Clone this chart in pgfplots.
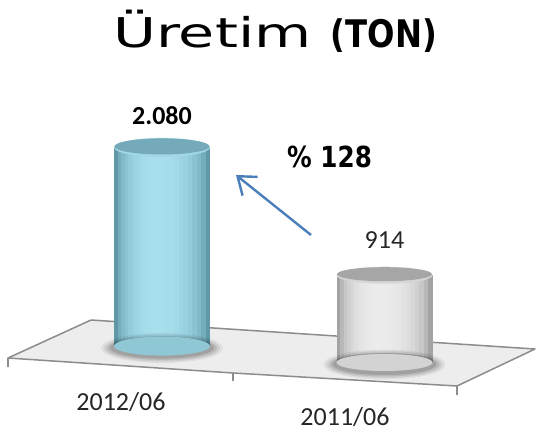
\documentclass[border=0pt]{standalone}
\usepackage{fontspec}
\setmainfont{Carlito}
\newfontfamily\titlefont[FakeStretch=1.43]{DejaVu Sans}
\newfontfamily\heavyfont[FakeStretch=0.85]{DejaVu Sans}
\usepackage{pgfplots}
\usepackage{pgfplotstable}
\pgfplotsset{compat=1.18}
\usetikzlibrary{arrows.meta,shapes.geometric}
\definecolor{floorc}{HTML}{EDEDED}
\definecolor{edgec}{HTML}{8C8C8C}
\definecolor{arrowc}{HTML}{4A7EBB}
\definecolor{labc}{HTML}{262626}
\definecolor{bla}{HTML}{4F8898}
\definecolor{blb}{HTML}{A8DFED}
\definecolor{bltop}{HTML}{74AAB9}
\definecolor{blrim}{HTML}{A2D6E3}
\definecolor{gra}{HTML}{939393}
\definecolor{grb}{HTML}{ECECEC}
\definecolor{grtop}{HTML}{A6A6A6}
\definecolor{grrim}{HTML}{D6D6D6}
% data
\pgfplotstableread{
x y
0 2080
}\bluedata
\pgfplotstableread{
x y
1 914
}\graydata
\begin{document}
\begin{tikzpicture}
\pgfplotsset{common/.style={scale only axis, width=537pt, height=432pt,
  at={(0pt,0pt)}, anchor=south west, clip=false,
  axis line style={draw=none}, tick style={draw=none},
  xtick=\empty, ytick=\empty,
  /pgf/number format/assume math mode=true,
  /pgf/number format/1000 sep={.}},
  ell/.style={draw=none, nodes near coords={\relax},
  nodes near coords align={anchor=center},
  every node near coord/.append style={ellipse, inner sep=0pt, outer sep=0pt,
    draw=none, anchor=center, #1}}}
% one vertical band of a cylinder body: table, width, shift, colour
\newcommand\band[4]{%
  \addplot[ybar, bar width=#2, bar shift=#3, draw=none, fill=#4]
    table[x=x, y=y] {#1};}
\newcommand\cylinder[4]{% table, edge colour, light colour, ellipse height
  \addplot[ell={minimum width=96pt, minimum height=#4, fill=#3!72!#2}]
    table[x=x, y expr=0] {#1};
  \band{#1}{96pt}{0pt}{#3!18!#2}
  \band{#1}{88pt}{-0.5pt}{#3!42!#2}
  \band{#1}{80pt}{-1pt}{#3!58!#2}
  \band{#1}{72pt}{-1.5pt}{#3!68!#2}
  \band{#1}{64pt}{-2pt}{#3!77!#2}
  \band{#1}{56pt}{-2.5pt}{#3!84!#2}
  \band{#1}{48pt}{-3pt}{#3!89!#2}
  \band{#1}{40pt}{-3.5pt}{#3!93!#2}
  \band{#1}{32pt}{-4pt}{#3!96!#2}
  \band{#1}{24pt}{-4.5pt}{#3!98!#2}
  \band{#1}{16pt}{-5pt}{#3!99!#2}
  \band{#1}{8pt}{-5.5pt}{#3}}
\newcommand\shadow[1]{%
  \addplot[ell={minimum width=122pt, minimum height=30pt, yshift=-2pt,
    fill=black, fill opacity=0.06}] table[x=x, y expr=0] {#1};
  \addplot[ell={minimum width=116pt, minimum height=27pt, yshift=-2pt,
    fill=black, fill opacity=0.08}] table[x=x, y expr=0] {#1};
  \addplot[ell={minimum width=110pt, minimum height=24pt, yshift=-2pt,
    fill=black, fill opacity=0.10}] table[x=x, y expr=0] {#1};
  \addplot[ell={minimum width=104pt, minimum height=22pt, yshift=-1.5pt,
    fill=black, fill opacity=0.12}] table[x=x, y expr=0] {#1};}
% decoration axis in pixel units
\begin{axis}[common, xmin=0, xmax=537, ymin=0, ymax=432]
\addplot[fill=floorc, draw=edgec, line width=1.5pt, line join=round]
  coordinates {(91,112) (535,83) (457,46) (233,59) (8,74)} -- cycle;
\addplot[draw=edgec, line width=1.5pt] coordinates {(8,74) (8,65)};
\addplot[draw=edgec, line width=1.5pt] coordinates {(233,59) (233,51)};
\addplot[draw=edgec, line width=1.5pt] coordinates {(457,46) (457,37)};
\addplot[arrowc, line width=2.4pt, -{Straight Barb[length=16pt,width=24pt]}]
  coordinates {(311,197) (236,257)};
\node[anchor=base west, inner sep=0pt] at (axis cs:113,384)
  {\titlefont\fontsize{41}{41}\selectfont Üretim};
\node[anchor=base east, inner sep=0pt] at (axis cs:437,384)
  {\heavyfont\bfseries\fontsize{38}{38}\selectfont (TON)};
\node[anchor=base west, inner sep=0pt] at (axis cs:287,265)
  {\heavyfont\bfseries\fontsize{29}{29}\selectfont \% 128};
\end{axis}
% blue bar 2012/06
\begin{axis}[common, xmin=-0.7281, xmax=1.6854, ymin=-900, ymax=3624,
  xtick={-0.1843,0.8225},
  xticklabels={\raisebox{15pt}{2012/06},2011/06},
  xticklabel style={anchor=base, yshift=7pt, inner sep=0pt,
    font=\fontsize{26}{26}\selectfont, text=labc}]
\shadow{\bluedata}
\cylinder{\bluedata}{bla}{blb}{19pt}
\addplot[ell={minimum width=96pt, minimum height=19pt, fill=blrim}]
  table[x=x, y=y] {\bluedata};
\addplot[ell={minimum width=95pt, minimum height=16pt, yshift=1pt, fill=bltop}]
  table[x=x, y=y] {\bluedata};
\addplot[draw=none, nodes near coords, nodes near coords align={anchor=base},
  every node near coord/.append style={anchor=base, yshift=22.5pt,
    font=\bfseries\fontsize{26}{26}\selectfont, text=black}]
  table[x=x, y=y] {\bluedata};
\end{axis}
% gray bar 2011/06
\begin{axis}[common, xmin=-0.7281, xmax=1.6854, ymin=-728, ymax=3796]
\shadow{\graydata}
\cylinder{\graydata}{gra}{grb}{17pt}
\addplot[ell={minimum width=96pt, minimum height=17pt, fill=grrim}]
  table[x=x, y=y] {\graydata};
\addplot[ell={minimum width=95pt, minimum height=14pt, yshift=1pt, fill=grtop}]
  table[x=x, y=y] {\graydata};
\addplot[draw=none, nodes near coords, nodes near coords align={anchor=base},
  every node near coord/.append style={anchor=base, yshift=26.5pt,
    font=\fontsize{26}{26}\selectfont, text=labc}]
  table[x=x, y=y] {\graydata};
\end{axis}
\pgfresetboundingbox
\path (0pt,0pt) rectangle (537pt,432pt);
\end{tikzpicture}
\end{document}
